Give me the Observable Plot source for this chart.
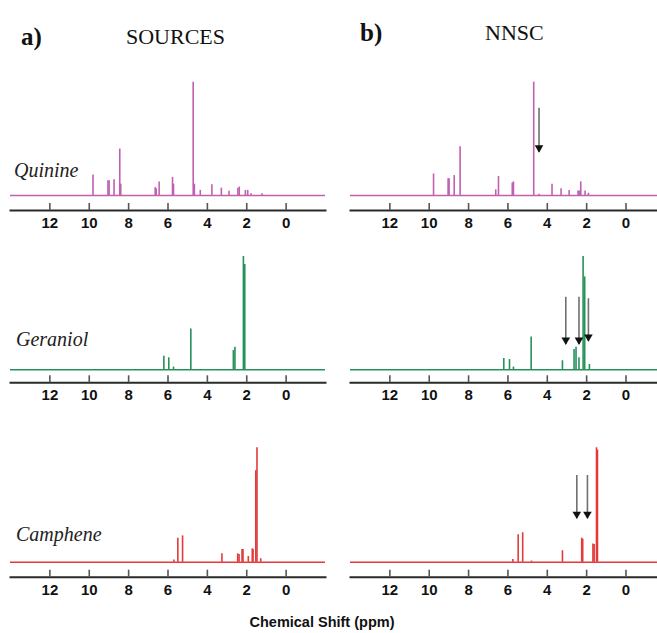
<!DOCTYPE html>
<html><head><meta charset="utf-8">
<script src="https://cdn.jsdelivr.net/npm/d3@7"></script>
<script src="https://cdn.jsdelivr.net/npm/@observablehq/plot@0.6"></script>
<style>
body{margin:0;background:#fff;}
#wrap{position:relative;width:657px;height:633px;overflow:hidden;background:#fff;}
#wrap > div, #wrap > svg{position:absolute;}
</style></head><body><div id="wrap"></div>
<script>
// ---- data ----
const tickValues = [12, 10, 8, 6, 4, 2, 0];
const compounds = ["Quinine", "Geraniol", "Camphene"];
const columnTitles = ["SOURCES", "NNSC"];
const columnLetters = ["a)", "b)"];
const xLabel = "Chemical Shift (ppm)";

// Quinine (sources / NNSC) peak positions (ppm) and relative heights
const quinineSrcPpm = [9.81, 9.05, 8.99, 8.74, 8.45, 8.40, 6.65, 6.60, 6.45, 5.77, 5.72, 4.72, 4.66, 4.36, 3.77, 3.29, 2.90, 2.45, 2.38, 2.07, 1.95, 1.78, 1.22];
const quinineSrcH   = [0.18, 0.13, 0.13, 0.14, 0.41, 0.10, 0.07, 0.06, 0.12, 0.16, 0.10, 1.00, 0.10, 0.045, 0.094, 0.065, 0.038, 0.065, 0.074, 0.044, 0.044, 0.015, 0.015];
const quinineNnscPpm = [9.78, 9.04, 8.99, 8.73, 8.43, 6.62, 6.48, 5.78, 5.72, 4.69, 4.42, 3.76, 3.30, 2.89, 2.44, 2.38, 2.30, 2.08, 1.91];
const quinineNnscH   = [0.19, 0.147, 0.147, 0.176, 0.43, 0.05, 0.168, 0.11, 0.12, 1.00, 0.01, 0.10, 0.06, 0.044, 0.04, 0.04, 0.12, 0.04, 0.02];

// Geraniol
const geraniolSrcPpm = [6.21, 5.96, 5.72, 4.84, 2.68, 2.60, 2.17, 2.10];
const geraniolSrcH   = [0.12, 0.106, 0.024, 0.36, 0.17, 0.20, 1.00, 0.93];
const geraniolNnscPpm = [6.21, 5.92, 5.72, 4.82, 3.23, 2.64, 2.54, 2.39, 2.18, 2.10, 1.86];
const geraniolNnscH   = [0.10, 0.09, 0.024, 0.29, 0.08, 0.18, 0.20, 0.106, 1.00, 0.82, 0.047];

// Camphene
const campheneSrcPpm = [5.70, 5.50, 5.26, 3.26, 2.46, 2.39, 2.24, 2.19, 1.92, 1.72, 1.68, 1.54, 1.48, 1.29];
const campheneSrcH   = [0.02, 0.21, 0.23, 0.073, 0.073, 0.067, 0.11, 0.11, 0.05, 0.117, 0.11, 0.80, 1.00, 0.03];
const campheneNnscPpm = [5.75, 5.48, 5.25, 4.80, 3.23, 2.25, 2.20, 1.68, 1.62, 1.50, 1.45];
const campheneNnscH   = [0.023, 0.24, 0.257, 0.01, 0.10, 0.21, 0.20, 0.16, 0.155, 1.00, 0.98];

// Arrows in NNSC panels: ppm, top and tip (relative intensity units)
const quinineArrows  = {ppm: [4.42], top: [0.77], tip: [0.38]};
const geraniolArrows = {ppm: [3.06, 2.39, 1.91], top: [0.64, 0.64, 0.627], tip: [0.223, 0.223, 0.25]};
const campheneArrows = {ppm: [2.50, 1.96], top: [0.758, 0.758], tip: [0.38, 0.38]};

const colors = ["#c060b2", "#27915a", "#e23a3a"];

// ---- build ----
const zip = (p, h) => p.map((x, i) => ({ppm: x, h: h[i]}));
const arr = (a) => a.ppm.map((x, i) => ({ppm: x, top: a.top[i], tip: a.tip[i]}));
const spectra = [
  [zip(quinineSrcPpm, quinineSrcH), zip(quinineNnscPpm, quinineNnscH)],
  [zip(geraniolSrcPpm, geraniolSrcH), zip(geraniolNnscPpm, geraniolNnscH)],
  [zip(campheneSrcPpm, campheneSrcH), zip(campheneNnscPpm, campheneNnscH)]
];
const arrows = [arr(quinineArrows), arr(geraniolArrows), arr(campheneArrows)];

// layout (pixels)
const rows = [
  {top: 60, base: 195, peak: 81.7, axis: 210},
  {top: 240, base: 369.3, peak: 256, axis: 382.3},
  {top: 425, base: 561.7, peak: 447.3, axis: 576.7}
];
const cols = [
  {left: 0, width: 330, ml: 10, mr: 5, domain: [14, -2]},
  {left: 330, width: 327, ml: 20, mr: 0, domain: [14, -1.6]}
];

const wrap = document.getElementById("wrap");
const MB = 25;
rows.forEach((r, ri) => {
  cols.forEach((c, ci) => {
    const height = r.axis - r.top + MB;
    const marks = [
      Plot.ruleY([0], {stroke: colors[ri], strokeWidth: 1.5}),
      Plot.ruleX(spectra[ri][ci], {x: "ppm", y1: 0, y2: "h", stroke: colors[ri], strokeWidth: 1.6}),
      Plot.frame({anchor: "bottom", stroke: "#2a2a2a", strokeWidth: 2}),
      Plot.axisX({ticks: tickValues, tickSize: -7, text: null, stroke: "#555", strokeWidth: 1.6}),
      Plot.axisX({ticks: tickValues, tickSize: 0, tickPadding: 7, fill: "#111", fontWeight: "bold", fontSize: 15, fontFamily: "Liberation Sans, Arial, sans-serif", label: null})
    ];
    if (ci === 1) {
      marks.push(
        Plot.ruleX(arrows[ri], {x: "ppm", y1: "top", y2: "tip", stroke: "#707070", strokeWidth: 1.6}),
        Plot.dot(arrows[ri], {x: "ppm", y: "tip", symbol: "triangle", r: 3.2, rotate: 180, fill: "#111", stroke: "none", dy: -4.6})
      );
    }
    const svg = Plot.plot({
      width: c.width, height,
      marginLeft: c.ml, marginRight: c.mr, marginTop: 0, marginBottom: MB,
      x: {domain: c.domain, label: null},
      y: {domain: [0, 1], range: [r.base - r.top, r.peak - r.top], axis: null},
      style: {background: "transparent", overflow: "visible"},
      marks
    });
    const holder = document.createElement("div");
    holder.style.left = c.left + "px";
    holder.style.top = r.top + "px";
    holder.appendChild(svg);
    wrap.appendChild(holder);
  });
});

// text overlay
const ns = "http://www.w3.org/2000/svg";
const ov = document.createElementNS(ns, "svg");
ov.setAttribute("width", 657); ov.setAttribute("height", 633);
ov.style.left = "0px"; ov.style.top = "0px"; ov.style.pointerEvents = "none";
function txt(s, x, y, attrs) {
  const t = document.createElementNS(ns, "text");
  t.textContent = s;
  t.setAttribute("x", x); t.setAttribute("y", y);
  for (const k in attrs) t.setAttribute(k, attrs[k]);
  ov.appendChild(t);
}
const serif = "Liberation Serif, Times New Roman, serif";
txt(columnLetters[0], 21, 45, {"font-family": serif, "font-size": 25, "font-weight": "bold", fill: "#111"});
txt(columnTitles[0], 126, 44, {"font-family": serif, "font-size": 22, fill: "#111"});
txt(columnLetters[1], 360, 41, {"font-family": serif, "font-size": 25, "font-weight": "bold", fill: "#111"});
txt(columnTitles[1], 485, 40, {"font-family": serif, "font-size": 22, fill: "#111"});
const nameY = [177, 346, 541];
compounds.forEach((n, i) => txt(n, i === 0 ? 14 : 16, nameY[i], {"font-family": serif, "font-size": 20, "font-style": "italic", fill: "#222"}));
txt(xLabel, 322, 627, {"font-family": "Liberation Sans, Arial, sans-serif", "font-size": 14.5, "font-weight": "bold", fill: "#111", "text-anchor": "middle"});
wrap.appendChild(ov);
</script>
</body></html>
